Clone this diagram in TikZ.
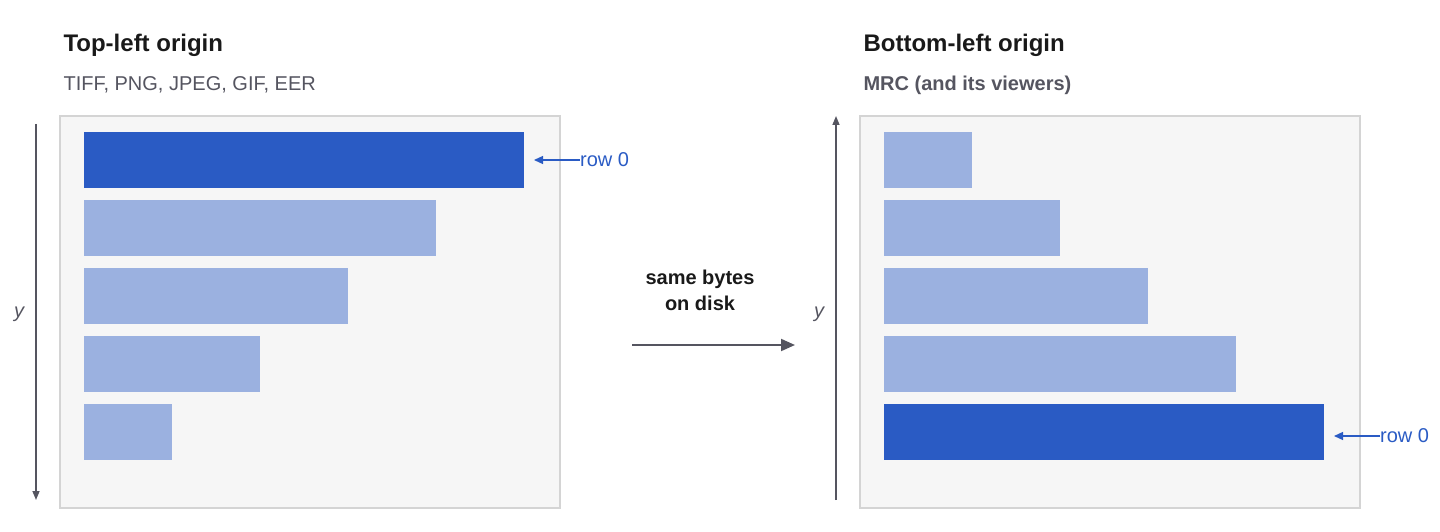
\documentclass[tikz,border=0pt]{standalone}
\usepackage{fontspec}
\setmainfont{Liberation Sans}
\usetikzlibrary{arrows.meta}
\definecolor{rowdark}{HTML}{2A5BC4}
\definecolor{rowlight}{HTML}{9BB1E0}
\definecolor{panelfill}{HTML}{F6F6F6}
\definecolor{panelline}{HTML}{D4D4D4}
\definecolor{axisgray}{HTML}{555560}
\tikzset{
  panel/.style={draw=panelline, fill=panelfill, line width=1.5pt},
  bar/.style={fill=rowlight, draw=none},
  toprow/.style={fill=rowdark, draw=none},
  axis/.style={draw=axisgray, line width=1.5pt, -{Triangle[length=9pt,width=7pt]}},
  marker/.style={draw=rowdark, line width=1.3pt, -{Triangle[length=9pt,width=8pt]}},
  title/.style={anchor=base west, font=\fontsize{24}{28}\selectfont\bfseries, text=black!90},
  subtitle/.style={anchor=base west, font=\fontsize{20}{24}\selectfont, text=axisgray},
  rowlabel/.style={anchor=west, font=\fontsize{20}{24}\selectfont, text=rowdark, inner sep=0pt}
}
\begin{document}
\begin{tikzpicture}[x=1pt,y=-1pt]
  \useasboundingbox (0,0) rectangle (1440,532);
  % left: top-left origin
  \node[title] (ltitle) at (60,52) {Top-left origin};
  \node[subtitle] (lsub) at (60,91) {TIFF, PNG, JPEG, GIF, EER};
  \draw[panel] (60,116) rectangle (560,508);
  \fill[toprow] (84,132) rectangle (524,188);
  \foreach \y/\w in {200/436, 268/348, 336/260, 404/172}
    \fill[bar] (84,\y) rectangle (\w,\y+56);
  \coordinate (ltop) at (36,124);
  \coordinate (lbot) at (36,500);
  \draw[axis] (ltop) -- (lbot);
  \node[font=\fontsize{20}{24}\selectfont\itshape, text=axisgray] (ly) at (19,314) {y};
  \node[rowlabel] (lrow) at (580,160) {row 0};
  \coordinate (lrowtip) at (534,160);
  \draw[marker] (lrow.west) -- (lrowtip);
  % middle
  \node[align=center, font=\fontsize{20}{26}\selectfont\bfseries, text=black!90] (bytes) at (700,290) {same bytes\\on disk};
  \coordinate (mstart) at (632,345);
  \coordinate (mend) at (795,345);
  \draw[axis, line width=2pt, -{Triangle[length=14pt,width=12pt]}] (mstart) -- (mend);
  % right: bottom-left origin
  \node[title] (rtitle) at (860,52) {Bottom-left origin};
  \node[subtitle, font=\fontsize{20}{24}\selectfont\bfseries] (rsub) at (860,91) {MRC (and its viewers)};
  \draw[panel] (860,116) rectangle (1360,508);
  \foreach \y/\w in {132/972, 200/1060, 268/1148, 336/1236}
    \fill[bar] (884,\y) rectangle (\w,\y+56);
  \fill[toprow] (884,404) rectangle (1324,460);
  \coordinate (rbot) at (836,500);
  \coordinate (rtop) at (836,116);
  \draw[axis] (rbot) -- (rtop);
  \node[font=\fontsize{20}{24}\selectfont\itshape, text=axisgray] (ry) at (819,314) {y};
  \node[rowlabel] (rrow) at (1380,436) {row 0};
  \coordinate (rrowtip) at (1334,436);
  \draw[marker] (rrow.west) -- (rrowtip);
\end{tikzpicture}
\end{document}
